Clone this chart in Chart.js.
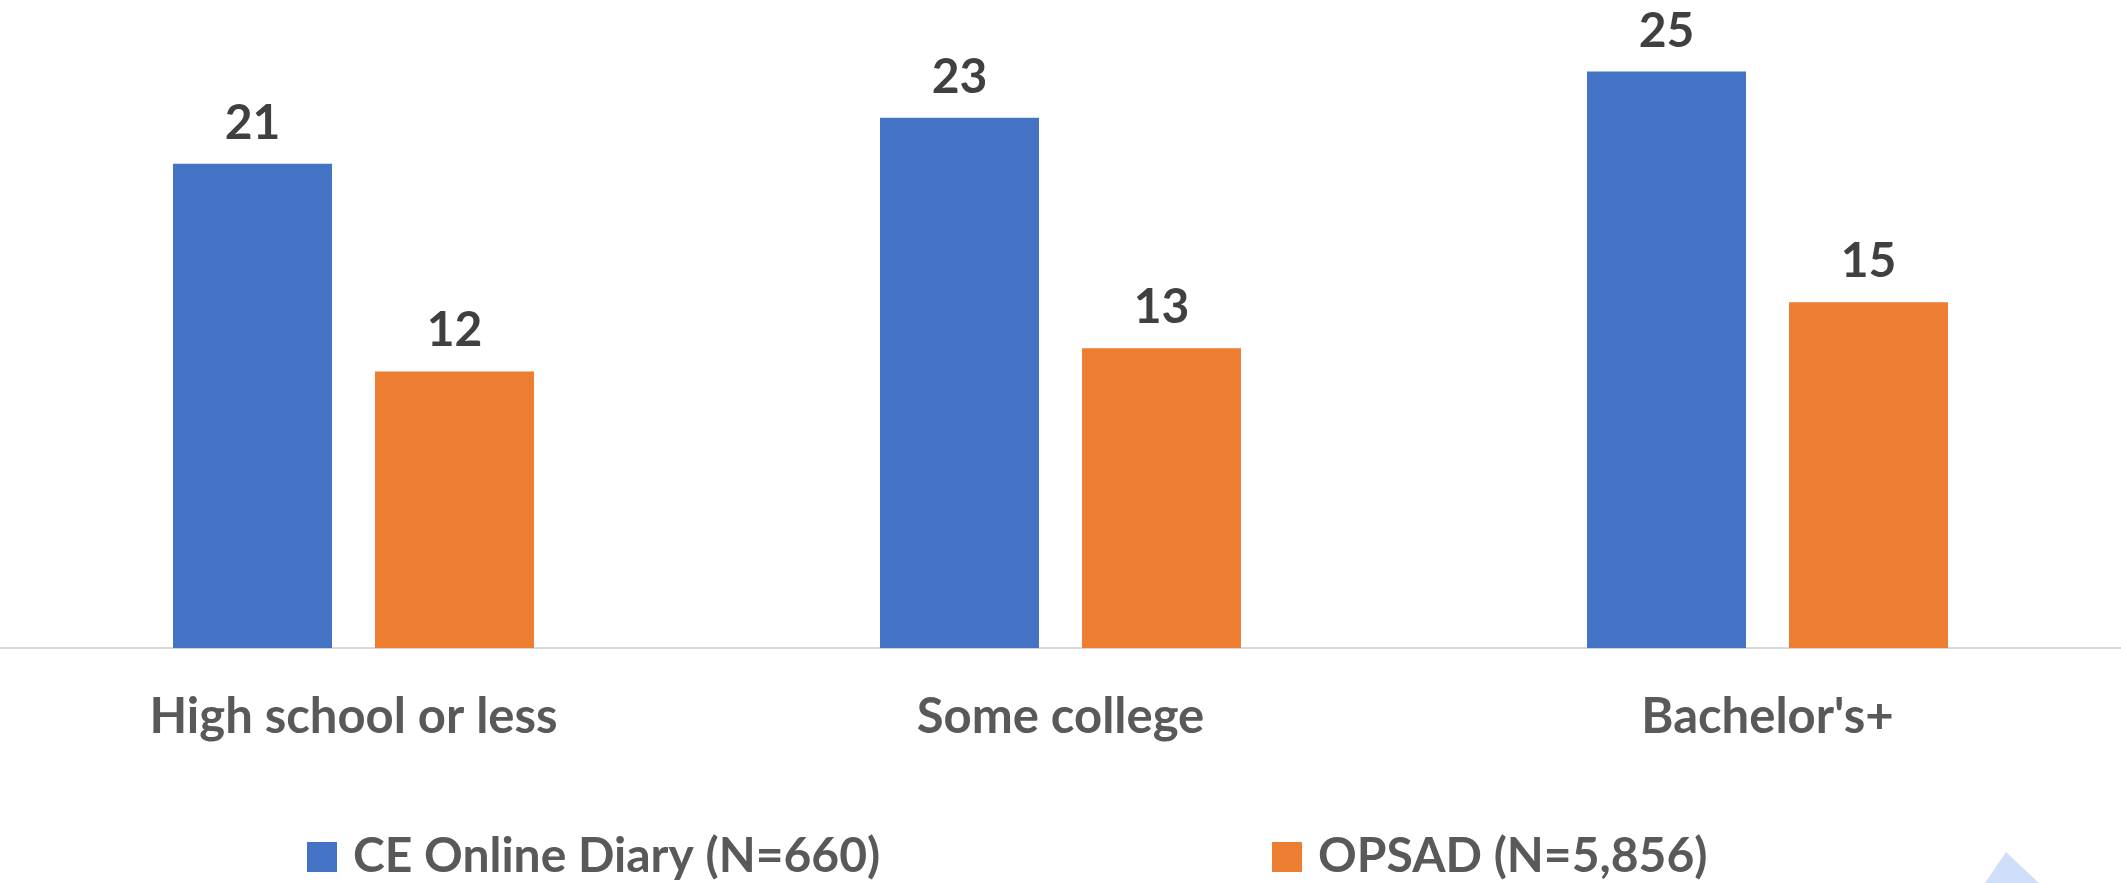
<!DOCTYPE html>
<html>
<head>
<meta charset="utf-8">
<script src="https://cdn.jsdelivr.net/npm/chart.js@4.4.1/dist/chart.umd.min.js"></script>
<style>
  html, body { margin: 0; padding: 0; background: #ffffff; overflow: hidden; }
  #wrap { width: 2121px; height: 883px; position: relative; }
  canvas { display: block; }
</style>
</head>
<body>
<div id="wrap"><canvas id="chart" width="2121" height="883"></canvas></div>
<script>
// Education level groups and the two survey series
const categories = ['High school or less', 'Some college', "Bachelor's+"];
const seriesNames = ['CE Online Diary (N=660)', 'OPSAD (N=5,856)'];
const onlineDiaryValues = [21, 23, 25];
const opsadValues = [12, 13, 15];
const seriesColors = ['#4472C4', '#ED7D31'];

const FONT = 'Lato, "Open Sans", sans-serif';

// Value labels above each bar
const barValueLabels = {
  id: 'barValueLabels',
  afterDatasetsDraw(chart) {
    const ctx = chart.ctx;
    ctx.save();
    ctx.font = 'bold 48px ' + FONT;
    ctx.fillStyle = '#404040';
    ctx.textAlign = 'center';
    ctx.textBaseline = 'alphabetic';
    chart.data.datasets.forEach((ds, di) => {
      const meta = chart.getDatasetMeta(di);
      meta.data.forEach((bar, i) => {
        ctx.fillText(String(ds.data[i]), bar.x, bar.y - 25);
      });
    });
    ctx.restore();
  }
};

// Legend row along the bottom, two widely spaced entries
const bottomLegend = {
  id: 'bottomLegend',
  afterDraw(chart) {
    const ctx = chart.ctx;
    const slots = [{ box: 307 }, { box: 1272 }];
    ctx.save();
    ctx.font = 'bold 48px ' + FONT;
    ctx.textBaseline = 'alphabetic';
    ctx.textAlign = 'left';
    chart.data.datasets.forEach((ds, i) => {
      const s = slots[i];
      ctx.fillStyle = ds.backgroundColor;
      ctx.fillRect(s.box, 842, 30, 30);
      ctx.fillStyle = '#595959';
      ctx.fillText(ds.label, s.box + 46, 872);
    });
    // small pale navigation marker in the corner
    ctx.fillStyle = '#CFDFFA';
    ctx.beginPath();
    ctx.moveTo(1985, 883);
    ctx.lineTo(2006, 852);
    ctx.lineTo(2039, 883);
    ctx.closePath();
    ctx.fill();
    ctx.restore();
  }
};

new Chart(document.getElementById('chart'), {
  type: 'bar',
  data: {
    labels: categories,
    datasets: [
      { label: seriesNames[0], data: onlineDiaryValues, backgroundColor: seriesColors[0] },
      { label: seriesNames[1], data: opsadValues, backgroundColor: seriesColors[1] }
    ]
  },
  options: {
    responsive: false,
    animation: false,
    devicePixelRatio: 1,
    layout: { padding: { top: 0, left: 0, right: 0, bottom: 96 } },
    datasets: {
      bar: { categoryPercentage: 0.5714, barPercentage: 0.787 }
    },
    plugins: {
      legend: { display: false },
      tooltip: { enabled: false }
    },
    scales: {
      x: {
        grid: { display: false, drawTicks: false },
        border: { display: true, color: '#D9D9D9', width: 2 },
        ticks: {
          color: '#595959',
          padding: 40,
          font: { family: FONT, size: 49, weight: 'bold' }
        }
      },
      y: {
        display: false,
        min: 0,
        max: 28.1
      }
    }
  },
  plugins: [barValueLabels, bottomLegend]
});
</script>
</body>
</html>
